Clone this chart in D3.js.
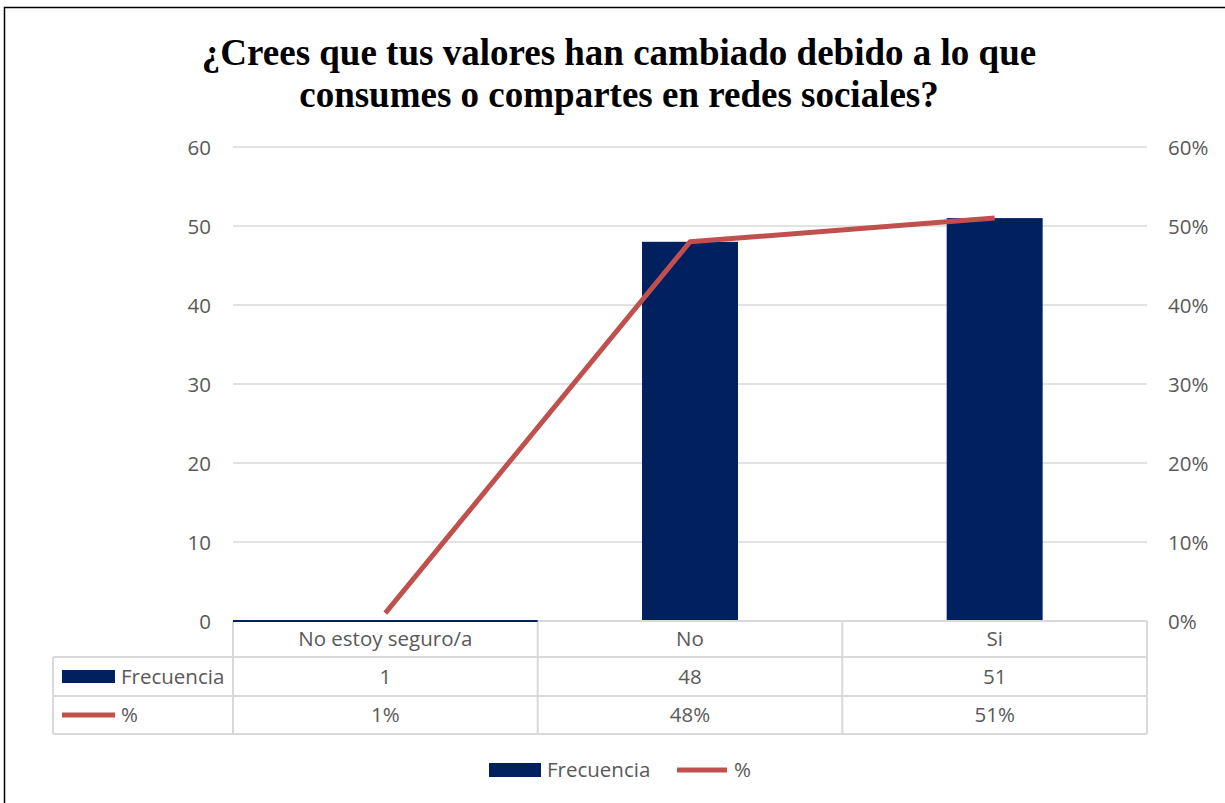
<!DOCTYPE html>
<html><head><meta charset="utf-8">
<script src="https://cdn.jsdelivr.net/npm/d3@7"></script>
<style>body{margin:0;background:#fff}svg{display:block}</style>
</head><body>
<script>
const categories = ["No estoy seguro/a", "No", "Si"];
const frecuencia = [1, 48, 51];
const porcentaje = [0.01, 0.48, 0.51];
const pctLabels = ["1%", "48%", "51%"];
const leftTicks = [0, 10, 20, 30, 40, 50, 60];
const rightTicks = [0, 0.1, 0.2, 0.3, 0.4, 0.5, 0.6];
const seriesNames = ["Frecuencia", "%"];
const titleLines = ["¿Crees que tus valores han cambiado debido a lo que", "consumes o compartes en redes sociales?"];

const W = 1225, H = 803;
const navy = "#002060", red = "#C0504D", grid = "#D9D9D9", txt = "#595959";
const font = "'Open Sans', Lato, sans-serif";
const fs = 20.5;
const plot = {l: 233, r: 1147, t: 147, b: 621};

const svg = d3.select("body").append("svg").attr("width", W).attr("height", H);
svg.append("rect").attr("x", 4.5).attr("y", 7.5).attr("width", W + 10).attr("height", H + 10)
  .attr("fill", "#fff").attr("stroke", "#000").attr("stroke-width", 1.5);

// title
svg.append("g").selectAll("text").data(titleLines).join("text")
  .attr("x", 619).attr("y", (d, i) => 65 + i * 42)
  .attr("text-anchor", "middle").attr("font-family", "'Liberation Serif', 'Times New Roman', serif")
  .attr("font-weight", "bold").attr("font-size", 37).attr("fill", "#000").text(d => d);

const x = d3.scaleBand().domain(categories).range([plot.l, plot.r]).paddingInner(0).paddingOuter(0);
const yL = d3.scaleLinear().domain([0, 60]).range([plot.b, plot.t]);
const yR = d3.scaleLinear().domain([0, 0.6]).range([plot.b, plot.t]);

// gridlines
svg.append("g").selectAll("line").data(leftTicks.filter(d => d > 0)).join("line")
  .attr("x1", plot.l).attr("x2", plot.r).attr("y1", d => yL(d)).attr("y2", d => yL(d))
  .attr("stroke", grid).attr("stroke-width", 1.3);

// left axis
const axL = svg.append("g").attr("transform", `translate(${plot.l - 22},0)`)
  .call(d3.axisLeft(yL).tickValues(leftTicks).tickSize(0).tickPadding(0));
axL.select(".domain").remove();
axL.selectAll("text").attr("font-family", font).attr("font-size", fs).attr("fill", txt).attr("dy", "0.35em");

const axR = svg.append("g").attr("transform", `translate(${plot.r + 21},0)`)
  .call(d3.axisRight(yR).tickValues(rightTicks).tickFormat(d3.format(".0%")).tickSize(0).tickPadding(0));
axR.select(".domain").remove();
axR.selectAll("text").attr("font-family", font).attr("font-size", fs).attr("fill", txt).attr("dy", "0.35em");

// bars
const bw = x.bandwidth() * 0.315;
svg.append("g").selectAll("rect").data(categories).join("rect")
  .attr("x", d => x(d) + x.bandwidth() / 2 - bw / 2)
  .attr("width", bw)
  .attr("y", (d, i) => yL(frecuencia[i]))
  .attr("height", (d, i) => plot.b - yL(frecuencia[i]))
  .attr("fill", navy)
  .attr("display", (d, i) => frecuencia[i] < 2 ? "none" : null);

// table
const tbl = svg.append("g");
const rowsY = [621, 657, 696, 734];
const tLeft = 53;
tbl.append("line").attr("x1", x(categories[1])).attr("x2", plot.r).attr("y1", rowsY[0]).attr("y2", rowsY[0]).attr("stroke", grid).attr("stroke-width", 2);
[1, 2, 3].forEach(i => tbl.append("line").attr("x1", tLeft).attr("x2", plot.r).attr("y1", rowsY[i]).attr("y2", rowsY[i]).attr("stroke", grid).attr("stroke-width", 2));
tbl.append("line").attr("x1", tLeft).attr("x2", tLeft).attr("y1", rowsY[1]).attr("y2", rowsY[3]).attr("stroke", grid).attr("stroke-width", 2);
[...categories.map(c => x(c)), plot.r].forEach(v => tbl.append("line").attr("x1", v).attr("x2", v).attr("y1", rowsY[0]).attr("y2", rowsY[3]).attr("stroke", grid).attr("stroke-width", 2));
tbl.append("line").attr("x1", x(categories[0])).attr("x2", x(categories[0]) + x.bandwidth())
  .attr("y1", rowsY[0]).attr("y2", rowsY[0]).attr("stroke", navy).attr("stroke-width", 2);

const cellText = (vals, row) => tbl.append("g").selectAll("text").data(vals).join("text")
  .attr("x", (d, i) => x(categories[i]) + x.bandwidth() / 2)
  .attr("y", (rowsY[row] + rowsY[row + 1]) / 2)
  .attr("dy", "0.35em").attr("text-anchor", "middle")
  .attr("font-family", font).attr("font-size", fs).attr("fill", txt).text(d => d);
cellText(categories, 0);
cellText(frecuencia, 1);
cellText(pctLabels, 2);

tbl.append("rect").attr("x", 62).attr("y", 670).attr("width", 53).attr("height", 13).attr("fill", navy);
tbl.append("line").attr("x1", 62).attr("x2", 115).attr("y1", 715).attr("y2", 715).attr("stroke", red).attr("stroke-width", 5);
tbl.append("g").selectAll("text").data(seriesNames).join("text")
  .attr("x", 121).attr("y", (d, i) => (rowsY[i + 1] + rowsY[i + 2]) / 2).attr("dy", "0.35em")
  .attr("font-family", font).attr("font-size", fs).attr("fill", txt).text(d => d);

// line
const line = d3.line().x((d, i) => x(categories[i]) + x.bandwidth() / 2).y(d => yR(d));
svg.append("path").datum(porcentaje).attr("d", line).attr("fill", "none")
  .attr("stroke", red).attr("stroke-width", 5).attr("stroke-linejoin", "round");

// bottom legend
const lg = svg.append("g");
lg.append("rect").attr("x", 489).attr("y", 763).attr("width", 52).attr("height", 14).attr("fill", navy);
lg.append("text").attr("x", 547).attr("y", 770).attr("dy", "0.35em").attr("font-family", font).attr("font-size", fs).attr("fill", txt).text(seriesNames[0]);
lg.append("line").attr("x1", 677).attr("x2", 727).attr("y1", 770).attr("y2", 770).attr("stroke", red).attr("stroke-width", 5);
lg.append("text").attr("x", 734).attr("y", 770).attr("dy", "0.35em").attr("font-family", font).attr("font-size", fs).attr("fill", txt).text(seriesNames[1]);
</script>
</body></html>
